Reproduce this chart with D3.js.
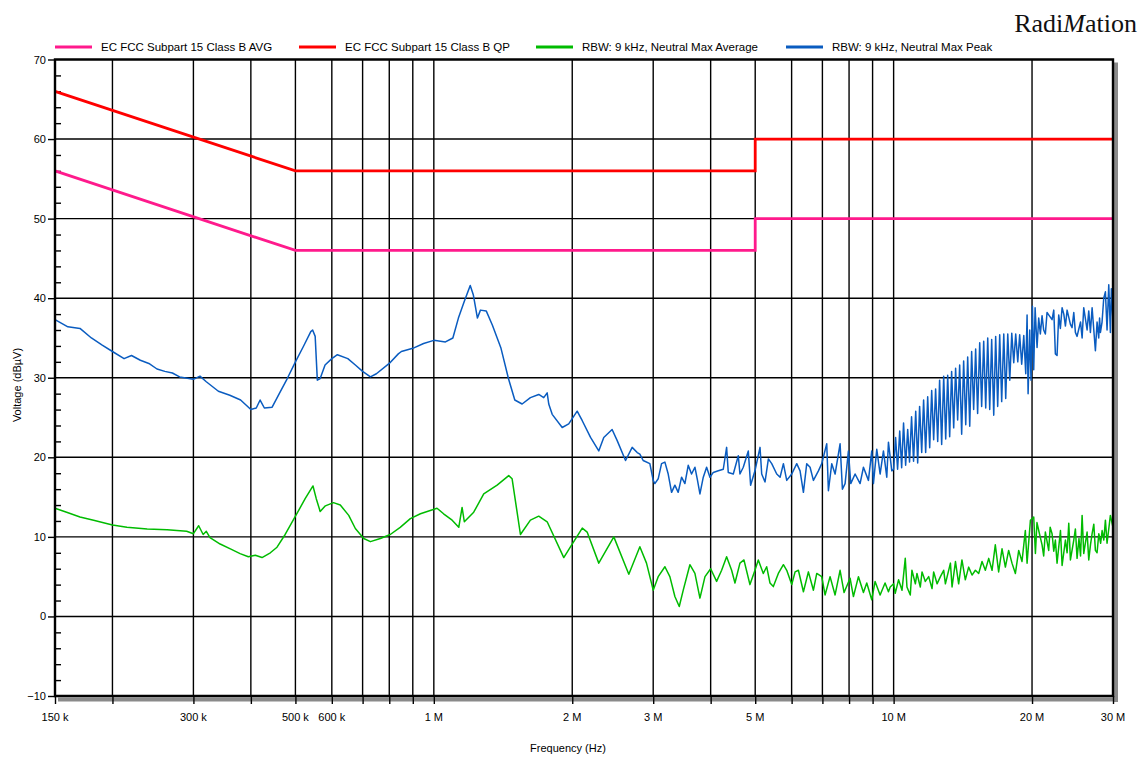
<!DOCTYPE html>
<html>
<head>
<meta charset="utf-8">
<script src="https://cdn.jsdelivr.net/npm/d3@7"></script>
<style>
    body { margin: 0; background: #fff; }
    text { font-family: "Liberation Sans", Arial, sans-serif; fill: #000; }
</style>
</head>
<body>
<div id="chart"></div>
<script>
// frequencies in MHz, levels in dBuV
var avgLimit = [[0.15, 56], [0.5, 46], [5, 46], [5, 50], [30, 50]];
var qpLimit  = [[0.15, 66], [0.5, 56], [5, 56], [5, 60], [30, 60]];

var peakTrace = [
    [0.150,37.3],[0.160,36.4],[0.170,36.2],[0.180,35.0],[0.190,34.1],[0.200,33.3],[0.212,32.4],[0.220,32.8],
    [0.230,32.2],[0.240,31.8],[0.250,31.1],[0.260,30.8],[0.270,30.6],[0.280,30.1],[0.300,29.8],[0.310,30.2],
    [0.320,29.5],[0.340,28.3],[0.360,27.8],[0.380,27.2],[0.400,26.0],[0.411,26.2],[0.419,27.2],[0.428,26.2],
    [0.445,26.3],[0.463,28.2],[0.480,29.9],[0.500,32.0],[0.520,33.9],[0.540,35.8],[0.545,36.0],[0.552,35.2],
    [0.558,29.7],[0.566,29.9],[0.580,31.6],[0.600,32.4],[0.617,32.9],[0.650,32.4],[0.675,31.6],[0.700,30.8],
    [0.728,30.1],[0.750,30.5],[0.800,31.8],[0.837,33.0],[0.850,33.3],[0.900,33.7],[0.950,34.3],[1.000,34.7],
    [1.060,34.5],[1.100,35.0],[1.131,37.5],[1.165,39.6],[1.200,41.6],[1.219,40.4],[1.244,37.5],[1.263,38.5],
    [1.300,38.4],[1.341,36.6],[1.400,33.7],[1.453,29.9],[1.500,27.2],[1.556,26.7],[1.622,27.5],[1.691,27.9],
    [1.734,27.5],[1.764,28.1],[1.778,26.7],[1.809,25.4],[1.902,23.75],[1.965,24.2],[2.050,25.8],[2.103,24.6],
    [2.192,22.5],[2.284,20.8],[2.342,22.5],[2.442,23.5],[2.505,22.1],[2.612,19.6],[2.700,21.25],[2.769,20.6],
    [2.806,20.4],[2.853,19.6],[2.950,19.2],[3.000,17.1],[3.025,16.7],[3.076,17.3],[3.128,19.2],[3.181,19.4],
    [3.234,17.9],[3.289,15.6],[3.344,16.5],[3.400,15.6],[3.458,17.5],[3.516,16.7],[3.575,19.0],[3.635,17.9],
    [3.697,18.75],[3.740,17.3],[3.791,15.4],[3.855,17.5],[3.920,18.75],[3.986,17.5],[4.053,18.1],[4.156,18.3],
    [4.261,18.5],[4.333,21.25],[4.369,18.1],[4.480,17.9],[4.594,20.2],[4.632,17.9],[4.710,18.75],[4.830,20.8],
    [4.886,16.5],[4.994,18.3],[5.122,21.25],[5.165,17.9],[5.252,16.9],[5.341,19.8],[5.431,19.2],[5.569,17.9],
    [5.663,17.5],[5.758,19.2],[5.855,17.1],[6.004,17.9],[6.156,19.2],[6.259,18.3],[6.365,15.6],[6.472,19.2],
    [6.581,18.75],[6.692,17.1],[6.862,18.3],[6.977,19.2],[7.154,21.7],[7.214,15.8],[7.336,19.2],[7.459,17.9],
    [7.648,21.7],[7.738,16.0],[7.842,16.7],[7.975,20.8],[8.068,16.7],[8.245,17.9],[8.454,16.7],[8.597,18.75],
    [8.815,17.1],[8.963,20.8],[9.038,16.7],[9.191,21.0],[9.346,17.9],[9.503,20.8],[9.663,17.5],[9.744,21.9],
    [9.909,18.3],[10.00,18.5],[10.10,22.5],[10.20,18.5],[10.31,23.3],[10.41,18.7],[10.51,24.3],[10.62,19.0],
    [10.73,23.5],[10.83,19.4],[10.94,25.1],[11.05,19.5],[11.17,25.8],[11.28,19.3],[11.39,26.4],[11.51,20.6],
    [11.62,27.2],[11.74,20.6],[11.86,27.6],[11.98,21.2],[12.10,28.4],[12.22,22.2],[12.34,28.6],[12.47,22.0],
    [12.59,29.7],[12.72,21.6],[12.85,30.2],[12.98,22.3],[13.11,30.3],[13.24,22.6],[13.37,30.8],[13.51,23.7],
    [13.64,31.2],[13.78,24.7],[13.92,31.6],[14.06,22.9],[14.20,32.1],[14.35,24.1],[14.49,32.6],[14.64,23.9],
    [14.78,33.3],[14.93,26.0],[15.08,33.6],[15.23,25.5],[15.39,34.4],[15.54,26.4],[15.70,34.6],[15.86,26.2],
    [16.02,35.0],[16.18,26.0],[16.34,34.8],[16.51,25.3],[16.67,35.2],[16.84,26.4],[17.01,35.4],[17.18,27.0],
    [17.36,35.5],[17.53,27.4],[17.71,35.5],[17.89,29.7],[18.07,35.6],[18.25,31.9],[18.43,35.5],[18.62,32.0],
    [18.80,35.4],[18.99,31.7],[19.19,35.3],[19.38,30.5],[19.51,37.9],[19.61,28.0],[19.77,36.0],[19.90,29.7],
    [20.04,39.0],[20.17,31.0],[20.31,38.8],[20.51,33.8],[20.68,37.5],[20.85,35.5],[21.03,37.8],[21.20,36.0],
    [21.38,35.5],[21.56,38.2],[21.74,37.9],[22.11,37.3],[22.30,38.5],[22.48,33.0],[22.67,32.8],[22.86,37.9],
    [23.05,36.2],[23.25,38.8],[23.45,38.0],[23.64,36.5],[23.84,38.5],[24.24,36.7],[24.44,36.3],[24.65,38.2],
    [24.85,35.7],[25.06,35.2],[25.27,36.1],[25.50,37.0],[25.70,35.0],[25.91,38.8],[26.35,36.0],[26.57,38.4],
    [26.79,35.7],[27.02,38.8],[27.25,36.0],[27.47,33.4],[27.70,37.0],[27.93,35.0],[28.05,37.5],[28.17,35.7],
    [28.40,37.0],[28.64,40.0],[28.88,40.8],[29.12,36.0],[29.37,41.7],[29.61,35.7],[29.76,41.2],[30.0,37.0]
];

var avgTrace = [
    [0.150,13.6],[0.159,13.1],[0.170,12.5],[0.182,12.1],[0.200,11.5],[0.215,11.2],[0.238,11.0],[0.263,10.9],
    [0.290,10.7],[0.300,10.4],[0.308,11.4],[0.315,10.3],[0.320,10.7],[0.326,9.9],[0.343,9.1],[0.361,8.5],
    [0.379,7.9],[0.395,7.5],[0.409,7.7],[0.423,7.4],[0.441,8.0],[0.456,8.7],[0.475,10.3],[0.499,12.5],
    [0.525,14.8],[0.546,16.4],[0.555,14.8],[0.566,13.2],[0.581,13.9],[0.605,14.3],[0.626,14.0],[0.653,12.7],
    [0.675,11.05],[0.704,9.8],[0.728,9.4],[0.765,9.8],[0.804,10.3],[0.845,11.2],[0.889,12.3],[0.935,12.9],
    [1.016,13.6],[1.050,12.9],[1.096,12.1],[1.133,11.2],[1.152,13.7],[1.165,11.9],[1.221,13.1],[1.284,15.4],
    [1.373,16.5],[1.455,17.7],[1.480,17.3],[1.543,10.3],[1.622,12.1],[1.691,12.6],[1.764,11.9],[1.917,7.4],
    [1.982,8.75],[2.103,11.1],[2.155,10.6],[2.284,6.7],[2.463,10.0],[2.655,5.3],[2.806,8.75],[2.901,6.7],
    [3.000,3.3],[3.076,5.0],[3.181,6.25],[3.261,5.0],[3.344,2.5],[3.418,1.25],[3.487,3.3],[3.605,6.5],
    [3.697,5.4],[3.791,2.3],[3.888,5.0],[4.000,6.0],[4.121,4.4],[4.226,5.8],[4.333,7.5],[4.443,5.8],
    [4.518,4.2],[4.632,6.7],[4.726,7.1],[4.870,4.0],[4.994,5.8],[5.078,7.1],[5.207,5.4],[5.295,6.25],
    [5.384,4.2],[5.475,3.75],[5.614,5.4],[5.758,6.5],[5.855,5.8],[6.004,4.0],[6.105,5.6],[6.207,5.8],
    [6.365,3.1],[6.526,5.6],[6.692,3.3],[6.805,5.4],[6.977,5.0],[7.094,2.7],[7.274,5.0],[7.459,2.7],
    [7.648,5.8],[7.803,3.0],[8.041,4.8],[8.177,2.5],[8.385,5.0],[8.597,3.0],[8.741,4.2],[8.963,2.1],
    [9.114,4.4],[9.346,2.7],[9.580,4.2],[9.744,3.1],[9.83,3.7],[10.00,4.1],[10.08,2.9],[10.25,4.6],
    [10.43,3.3],[10.60,7.3],[10.69,3.7],[10.87,2.7],[10.96,5.8],[11.15,4.1],[11.24,5.4],[11.43,3.7],
    [11.53,5.6],[11.72,4.4],[11.92,5.0],[12.12,3.5],[12.22,5.6],[12.43,4.1],[12.64,5.0],[12.85,5.8],
    [12.96,4.1],[13.29,6.7],[13.40,3.7],[13.63,6.9],[13.85,4.1],[14.08,7.1],[14.32,4.6],[14.56,6.2],
    [14.81,5.2],[15.06,5.8],[15.31,5.4],[15.57,6.9],[15.83,5.8],[16.10,7.3],[16.37,5.8],[16.64,9.0],
    [16.92,5.6],[17.21,8.5],[17.50,6.2],[17.79,8.3],[18.09,6.7],[18.40,5.4],[18.71,8.3],[19.02,6.9],
    [19.34,10.8],[19.51,6.7],[19.84,12.1],[20.17,12.5],[20.34,7.9],[20.50,11.8],[20.68,10.8],[21.03,9.0],
    [21.20,7.6],[21.38,10.6],[21.74,8.3],[21.90,11.2],[22.11,10.4],[22.30,8.2],[22.48,9.6],[22.67,6.7],
    [23.06,10.8],[23.25,6.4],[23.64,9.6],[23.84,8.0],[24.04,11.7],[24.24,7.1],[24.65,9.6],[24.85,11.0],
    [25.06,7.3],[25.30,9.8],[25.50,7.6],[25.70,12.7],[25.91,7.9],[26.35,10.6],[26.57,7.1],[26.80,9.0],
    [27.02,10.4],[27.25,11.6],[27.47,8.3],[27.70,8.0],[27.94,10.4],[28.20,9.2],[28.41,10.8],[28.65,9.6],
    [28.88,12.1],[29.12,9.2],[29.61,12.7],[30.0,11.2]
];

var gridFreqs = [0.2, 0.3, 0.4, 0.5, 0.6, 0.7, 0.8, 0.9, 1, 2, 3, 4, 5, 6, 7, 8, 9, 10, 20];
var tickFreqs = [0.15, 0.3, 0.5, 0.6, 1, 2, 3, 5, 10, 20, 30];
var tickLabels = ["150 k", "300 k", "500 k", "600 k", "1 M", "2 M", "3 M", "5 M", "10 M", "20 M", "30 M"];
var yMajor = [-10, 0, 10, 20, 30, 40, 50, 60, 70];
var legendNames = [
    "EC FCC Subpart 15 Class B AVG",
    "EC FCC Subpart 15 Class B QP",
    "RBW: 9 kHz, Neutral Max Average",
    "RBW: 9 kHz, Neutral Max Peak"
];

var width = 1140,
    height = 758,
    plotLeft = 55,
    plotRight = 1113,
    plotTop = 59.5,
    plotBottom = 696;

var colors = ["#ff1a8c", "#ff0000", "#00bb00", "#0a5cc0"];

var svg = d3.select("#chart")
    .append("svg")
    .attr("width", width)
    .attr("height", height)
    .style("background", "#fff");

var x = d3.scaleLog().domain([0.15, 30]).range([plotLeft, plotRight]);
var y = d3.scaleLinear().domain([-10, 70]).range([plotBottom, plotTop]);

// shadow of the frame
svg.append("rect")
    .attr("x", plotRight + 1).attr("y", plotTop + 3)
    .attr("width", 4).attr("height", plotBottom - plotTop + 3)
    .style("fill", "#8a8a8a");
svg.append("rect")
    .attr("x", plotLeft + 3).attr("y", plotBottom + 1.5)
    .attr("width", plotRight - plotLeft + 2).attr("height", 4)
    .style("fill", "#8a8a8a");

// grid
svg.selectAll(".vgrid")
    .data(gridFreqs).enter()
    .append("line")
    .attr("class", "vgrid")
    .attr("x1", function(d) { return x(d); })
    .attr("x2", function(d) { return x(d); })
    .attr("y1", plotTop)
    .attr("y2", plotBottom)
    .style("stroke", "#000")
    .style("stroke-width", 1.4);

svg.selectAll(".hgrid")
    .data(yMajor.slice(1, -1)).enter()
    .append("line")
    .attr("class", "hgrid")
    .attr("x1", plotLeft)
    .attr("x2", plotRight)
    .attr("y1", function(d) { return y(d); })
    .attr("y2", function(d) { return y(d); })
    .style("stroke", "#000")
    .style("stroke-width", 1.4);

// y axis (majors outside, minors inside)
var yAxis = d3.axisLeft(y)
    .tickValues(yMajor)
    .tickSize(7)
    .tickPadding(2)
    .tickFormat(d3.format("d"));
svg.append("g")
    .attr("transform", "translate(" + plotLeft + ",0)")
    .call(yAxis)
    .call(function(g) {
        g.select(".domain").remove();
        g.selectAll("line").style("stroke", "#000").style("stroke-width", 1.4);
        g.selectAll("text")
            .style("font-family", "Liberation Sans, Arial, sans-serif")
            .style("font-size", "11px")
            .style("fill", "#000");
    });

var minorTicks = d3.range(-10, 70, 2).filter(function(d) { return d % 10 != 0; });
svg.append("g")
    .attr("transform", "translate(" + plotLeft + ",0)")
    .call(d3.axisRight(y).tickValues(minorTicks).tickSize(6).tickFormat(""))
    .call(function(g) {
        g.select(".domain").remove();
        g.selectAll("line").style("stroke", "#000").style("stroke-width", 1.4);
    });

// x axis ticks at every grid line, labels only where the original has them
svg.append("g")
    .attr("transform", "translate(0," + plotBottom + ")")
    .call(d3.axisBottom(x).tickValues([0.15].concat(gridFreqs, [30])).tickSize(8).tickFormat(""))
    .call(function(g) {
        g.select(".domain").remove();
        g.selectAll("line").style("stroke", "#000").style("stroke-width", 1.4);
    });

svg.selectAll(".xlabel")
    .data(tickFreqs).enter()
    .append("text")
    .attr("class", "xlabel")
    .attr("x", function(d) { return x(d); })
    .attr("y", 721)
    .style("text-anchor", "middle")
    .style("font-size", "11px")
    .text(function(d, i) { return tickLabels[i]; });

// limits and traces
var line = d3.line()
    .x(function(d) { return x(d[0]); })
    .y(function(d) { return y(d[1]); });

svg.append("path").datum(avgTrace)
    .attr("d", line)
    .style("fill", "none").style("stroke", colors[2]).style("stroke-width", 1.5)
    .style("stroke-linejoin", "round");
svg.append("path").datum(peakTrace)
    .attr("d", line)
    .style("fill", "none").style("stroke", colors[3]).style("stroke-width", 1.5)
    .style("stroke-linejoin", "round");
svg.append("path").datum(avgLimit)
    .attr("d", line)
    .style("fill", "none").style("stroke", colors[0]).style("stroke-width", 2.8);
svg.append("path").datum(qpLimit)
    .attr("d", line)
    .style("fill", "none").style("stroke", colors[1]).style("stroke-width", 2.8);

// frame
svg.append("path")
    .attr("d", "M" + plotLeft + "," + plotBottom + "V" + plotTop + "H" + plotRight + "V" + plotBottom + "Z")
    .style("fill", "none")
    .style("stroke", "#000")
    .style("stroke-width", 2.4);

// legend
var legendX = [55, 299, 536, 786];
var legend = svg.selectAll(".legend")
    .data(legendNames).enter()
    .append("g")
    .attr("class", "legend")
    .attr("transform", function(d, i) { return "translate(" + legendX[i] + ",47)"; });
legend.append("line")
    .attr("x1", 0).attr("x2", 37)
    .style("stroke", function(d, i) { return colors[i]; })
    .style("stroke-width", 3);
legend.append("text")
    .attr("x", 46)
    .attr("y", 4)
    .style("font-size", "11.5px")
    .text(function(d) { return d; });

// axis titles
svg.append("text")
    .attr("transform", "translate(21,385) rotate(-90)")
    .style("text-anchor", "middle")
    .style("font-size", "11px")
    .text("Voltage (dBµV)");
svg.append("text")
    .attr("x", 568)
    .attr("y", 752)
    .style("text-anchor", "middle")
    .style("font-size", "11px")
    .text("Frequency (Hz)");

// logo
var logo = svg.append("text")
    .attr("x", 1137)
    .attr("y", 32)
    .style("text-anchor", "end")
    .style("font-family", "Liberation Serif, Times New Roman, serif")
    .style("font-size", "26px")
    .style("fill", "#111");
logo.append("tspan").text("Radi");
logo.append("tspan").style("font-style", "italic").text("M");
logo.append("tspan").text("ation");
</script>
</body>
</html>
